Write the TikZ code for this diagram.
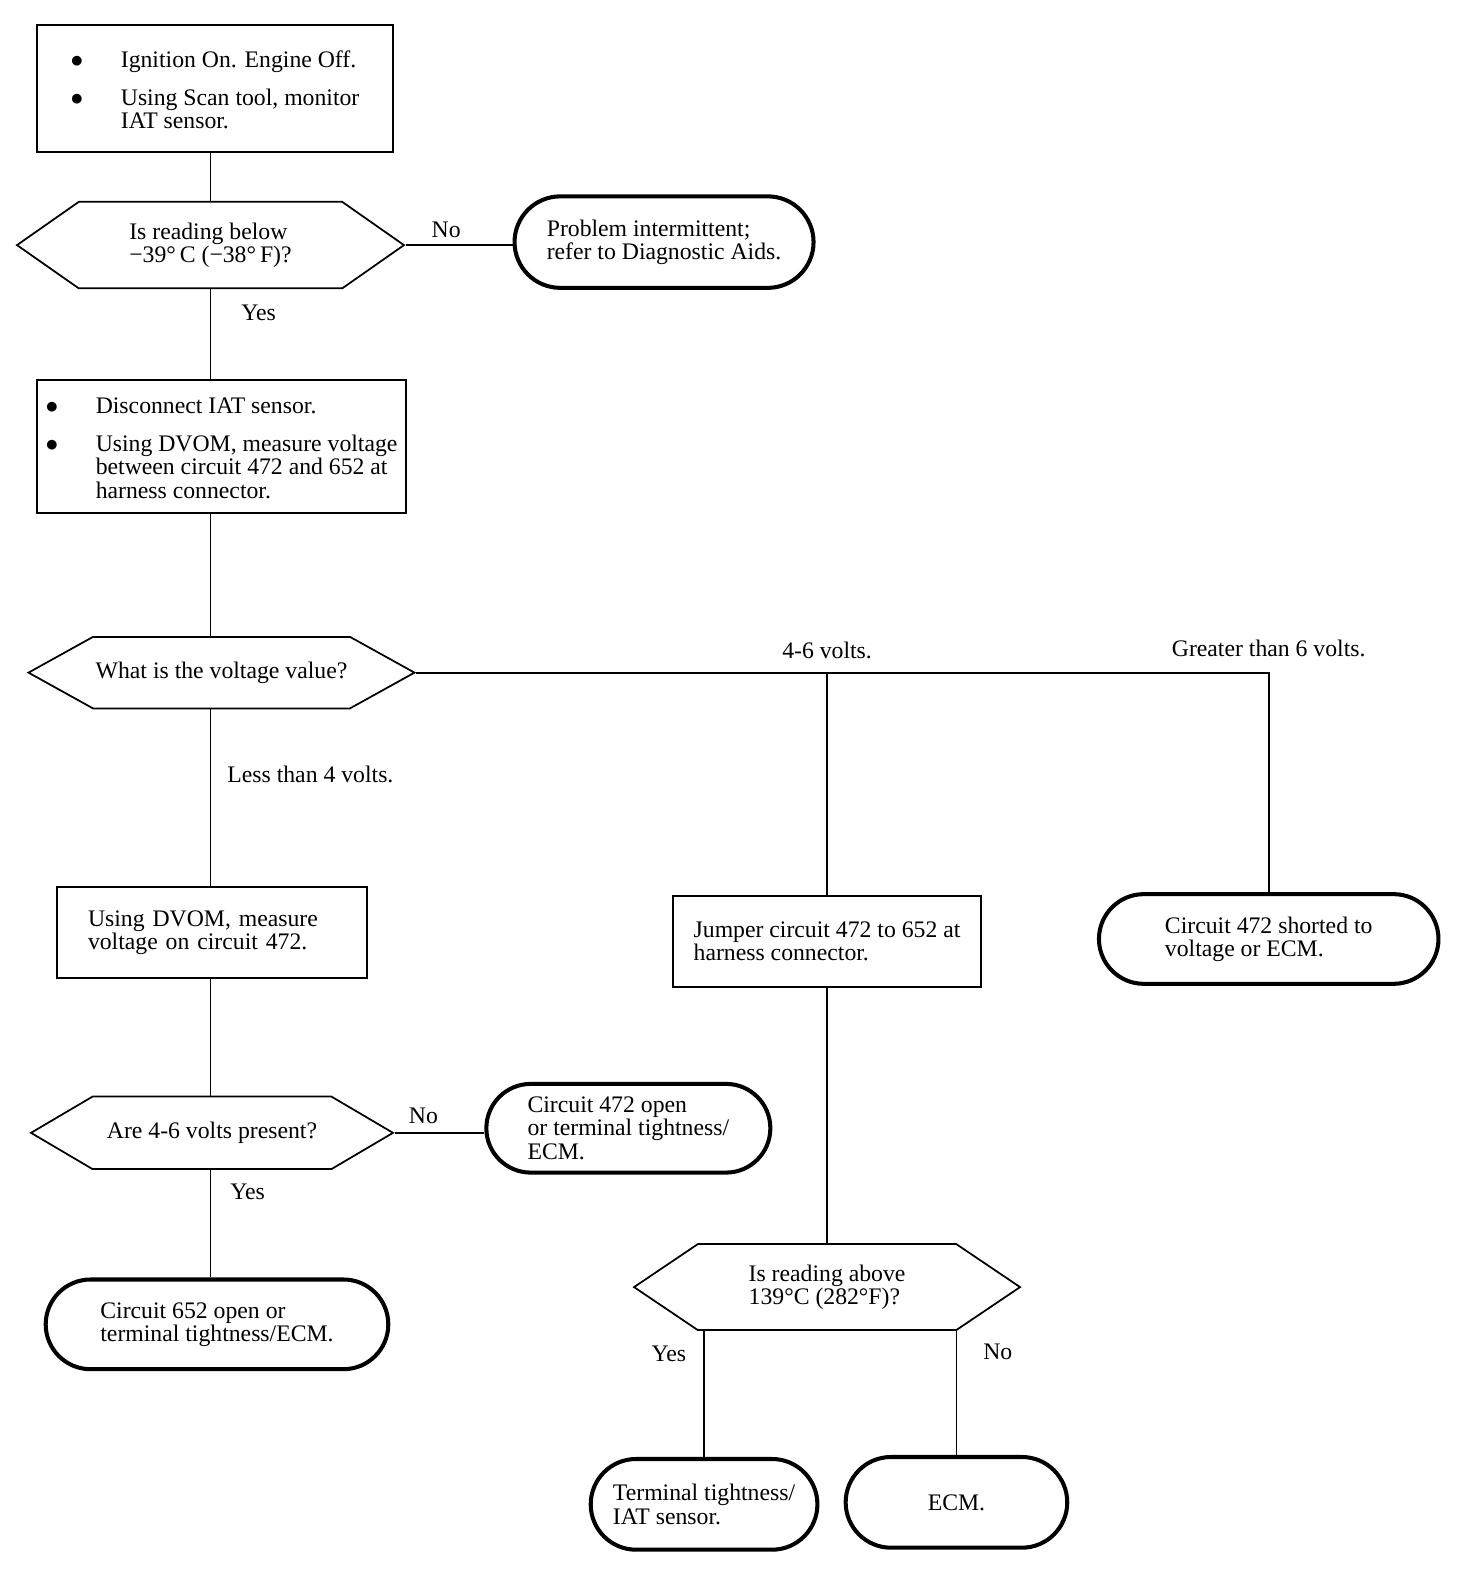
\documentclass[tikz,border=0pt]{standalone}
\usepackage{fontspec}
\setmainfont{Liberation Serif}
\usetikzlibrary{positioning,shapes.misc,shapes.symbols}
\newlength{\pxl}
\setlength{\pxl}{0.02cm}

\begin{document}
\begin{tikzpicture}[x=0.02cm,y=-0.02cm,line width=1pt,
    every node/.style={font=\fontsize{13.5}{13.2}\selectfont},
    stepbox/.style={rectangle,draw,align=left,inner sep=0pt},
    decision/.style={signal,signal to=west and east,draw,align=left,inner sep=0pt},
    result/.style={rounded rectangle,draw,line width=2.3pt,align=left,inner sep=0pt},
    branch/.style={inner sep=0pt}]
  \useasboundingbox (0,0) rectangle (1472,1580);

  % left column
  \node[stepbox,minimum width=356\pxl,minimum height=127\pxl] (box1) at (215,88.6)
    {\begin{tabular}{@{}p{28.6pt}@{}l@{}}\noalign{\vskip 5pt}
     $\bullet$ & Ignition On. Engine Off.\\[8pt]
     $\bullet$ & Using Scan tool, monitor\\
               & IAT sensor.
     \end{tabular}};
  \node[decision,signal pointer angle=70,minimum width=387\pxl,minimum height=86.5\pxl] (dia1)
    [below=48\pxl of box1,xshift=-4.5\pxl] {Is reading below\\−39°\,C (−38°\,F)?};
  \node[stepbox,minimum width=369\pxl,minimum height=133\pxl] (box2)
    [below=90\pxl of dia1,xshift=11\pxl]
    {\begin{tabular}{@{}p{28.6pt}@{}l@{}}\noalign{\vskip 5.5pt}
     $\bullet$ & Disconnect IAT sensor.\\[8pt]
     $\bullet$ & Using DVOM, measure voltage\\
               & between circuit 472 and 652 at\\
               & harness connector.
     \end{tabular}};
  \node[decision,signal pointer angle=58,minimum width=386\pxl,minimum height=71.5\pxl] (dia2)
    [below=122\pxl of box2] {What is the voltage value?};
  \node[stepbox,minimum width=310\pxl,minimum height=90.7\pxl,text width=248\pxl] (box3)
    [below=177\pxl of dia2,xshift=-9.5\pxl] {Using DVOM, measure\\voltage on circuit 472.};
  \node[decision,signal pointer angle=61,minimum width=362\pxl,minimum height=72.5\pxl] (dia3)
    [below=117\pxl of box3] {Are 4-6 volts present?};
  \node[result,minimum width=342.6\pxl,minimum height=89.7\pxl] (term5)
    [below=107.5\pxl of dia3,xshift=5\pxl] {Circuit 652 open or\\terminal tightness/ECM.};

  % side results
  \node[result,minimum width=299\pxl,minimum height=91.5\pxl] (term1)
    [right=107\pxl of dia1,yshift=3\pxl] {Problem intermittent;\\refer to Diagnostic Aids.};
  \node[result,minimum width=284\pxl,minimum height=88.7\pxl] (term4)
    [right=89.6\pxl of dia3,yshift=4.6\pxl] {Circuit 472 open\\or terminal tightness/\\ECM.};

  % right columns
  \node[stepbox,minimum width=308\pxl,minimum height=90.7\pxl] (box4)
    [right=304.3\pxl of box3,yshift=-9\pxl] {Jumper circuit 472 to 652 at\\harness connector.};
  \node[result,minimum width=339.5\pxl,minimum height=89.7\pxl] (term3)
    [right=115\pxl of box4,yshift=2.5\pxl] {Circuit 472 shorted to\\voltage or ECM.};
  \node[decision,signal pointer angle=68,minimum width=386\pxl,minimum height=86\pxl] (dia4)
    [below=255.5\pxl of box4] {Is reading above\\139°C (282°F)?};
  \node[result,minimum width=226.7\pxl,minimum height=90.7\pxl] (term6)
    [below=126\pxl of dia4,xshift=-123\pxl] {Terminal tightness/\\IAT sensor.};
  \node[result,minimum width=221.6\pxl,minimum height=90.7\pxl] (term7)
    [below=124\pxl of dia4,xshift=129.4\pxl] {ECM.};

  % connectors
  \path
    (dia1.north |- box1.south) edge (dia1.north)
    (dia1.east) edge node[branch,above,pos=0.38,yshift=7\pxl] {No} (dia1.east -| term1.west)
    (dia1.south) edge node[branch,right,pos=0.26,xshift=30\pxl] {Yes} (dia1.south |- box2.north)
    (dia1.south |- box2.south) edge (dia1.south |- dia2.north)
    (dia1.south |- dia2.south) edge node[branch,right,pos=0.37,xshift=16\pxl] {Less than 4 volts.} (dia1.south |- box3.north)
    (dia1.south |- box3.south) edge (dia1.south |- dia3.north)
    (dia3.east) edge node[branch,above,pos=0.32,yshift=8\pxl] {No} (dia3.east -| term4.west)
    (dia1.south |- dia3.south) edge node[branch,right,pos=0.2,xshift=19\pxl] {Yes} (dia1.south |- term5.north)
    (dia2.east -| box4.north) edge (box4.north)
    (box4.south) edge (dia4.north)
    (dia4.south -| term6.north) edge node[branch,left,pos=0.18,xshift=-17\pxl] {Yes} (term6.north)
    (dia4.south -| term7.north) edge node[branch,right,pos=0.17,xshift=26\pxl] {No} (term7.north);
  \draw (dia2.east) -| node[branch,above,pos=0.5,yshift=15\pxl] {Greater than 6 volts.} (term3.north);
  \node[branch,above=13\pxl] at (dia2.east -| box4.north) {4-6 volts.};
\end{tikzpicture}
\end{document}
